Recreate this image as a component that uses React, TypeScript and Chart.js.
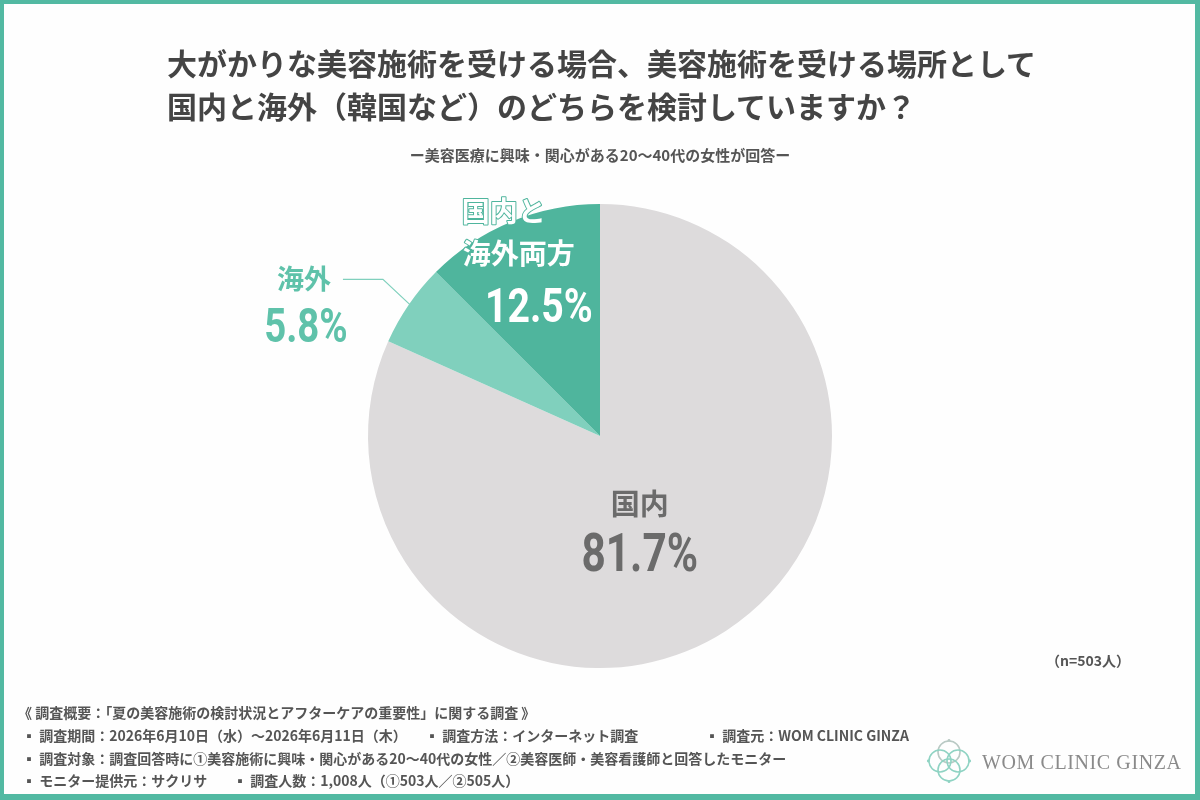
import React, { useEffect, useRef } from 'react';
import { Chart, registerables } from 'chart.js';

Chart.register(...registerables);

// Survey answers (share of respondents, %)
const CATEGORIES = ['国内', '海外', '国内と海外両方'];
const SHARES = [81.7, 5.8, 12.5];
const SLICE_COLORS = ['#dddbdc', '#80d0bd', '#4fb59d'];

const TITLE_LINES = [
  '大がかりな美容施術を受ける場合、美容施術を受ける場所として',
  '国内と海外（韓国など）のどちらを検討していますか？',
];
const SUBTITLE = 'ー美容医療に興味・関心がある20〜40代の女性が回答ー';
const SAMPLE_NOTE = '（n=503人）';

const FOOTER_HEAD = '《 調査概要：「夏の美容施術の検討状況とアフターケアの重要性」に関する調査 》';
const FOOTER_ROWS: { text: string; x: number }[][] = [
  [
    { text: '▪ 調査期間：2026年6月10日（水）〜2026年6月11日（木）', x: 22 },
    { text: '▪ 調査方法：インターネット調査', x: 425 },
    { text: '▪ 調査元：WOM CLINIC GINZA', x: 705 },
  ],
  [{ text: '▪ 調査対象：調査回答時に①美容施術に興味・関心がある20〜40代の女性／②美容医師・美容看護師と回答したモニター', x: 22 }],
  [
    { text: '▪ モニター提供元：サクリサ', x: 22 },
    { text: '▪ 調査人数：1,008人（①503人／②505人）', x: 233 },
  ],
];

const JP = '"Noto Sans CJK JP", "Noto Sans", sans-serif';
const NUM = 'Roboto, "Noto Sans", sans-serif';

type LabelLine = { text: string; dx: number; dy: number; size: number; num?: boolean; align: CanvasTextAlign };
type LabelStyle = {
  r: number;
  color: string;
  outline?: string;
  leader?: { from: number; elbow: [number, number]; end: [number, number]; color: string };
  lines: LabelLine[];
};

const pct = (v: number) => `${v.toFixed(1)}%`;

// Per-slice label layout, offsets relative to a point on the slice's mid angle
const LABEL_STYLES: LabelStyle[] = [
  {
    r: 0.45,
    color: '#6b6b6b',
    lines: [
      { text: CATEGORIES[0], dx: -17, dy: -20, size: 29, align: 'center' },
      { text: pct(SHARES[0]), dx: -17, dy: 29, size: 53, num: true, align: 'center' },
    ],
  },
  {
    r: 1.0,
    color: '#5fc2aa',
    leader: { from: 0.985, elbow: [-26, -25], end: [-66, -25], color: '#80d0bd' },
    lines: [
      { text: CATEGORIES[1], dx: -105, dy: -26, size: 27, align: 'center' },
      { text: pct(SHARES[1]), dx: -103, dy: 21, size: 48, num: true, align: 'center' },
    ],
  },
  {
    r: 0.6,
    color: '#ffffff',
    outline: '#4fb59d',
    lines: [
      { text: '国内と', dx: -85, dy: -96, size: 28, align: 'left' },
      { text: '海外両方', dx: -84, dy: -54, size: 28, align: 'left' },
      { text: pct(SHARES[2]), dx: 46, dy: -3, size: 49, num: true, align: 'right' },
    ],
  },
];

const sliceLabels = {
  id: 'sliceLabels',
  afterDatasetsDraw(chart: any) {
    const ctx: CanvasRenderingContext2D = chart.ctx;
    const meta = chart.getDatasetMeta(0);
    meta.data.forEach((arc: any, i: number) => {
      const style = LABEL_STYLES[i];
      if (!style) return;
      const { x, y, startAngle, endAngle, outerRadius } = arc.getProps(
        ['x', 'y', 'startAngle', 'endAngle', 'outerRadius'],
        true
      );
      const mid = (startAngle + endAngle) / 2;
      const ax = x + Math.cos(mid) * outerRadius * style.r;
      const ay = y + Math.sin(mid) * outerRadius * style.r;
      ctx.save();
      if (style.leader) {
        const L = style.leader;
        const sx = x + Math.cos(mid) * outerRadius * L.from;
        const sy = y + Math.sin(mid) * outerRadius * L.from;
        ctx.strokeStyle = L.color;
        ctx.lineWidth = 1.2;
        ctx.beginPath();
        ctx.moveTo(sx, sy);
        ctx.lineTo(ax + L.elbow[0], ay + L.elbow[1]);
        ctx.lineTo(ax + L.end[0], ay + L.end[1]);
        ctx.stroke();
      }
      style.lines.forEach((ln) => {
        const px = ax + ln.dx;
        const py = ay + ln.dy;
        ctx.save();
        ctx.fillStyle = style.color;
        ctx.textAlign = ln.align;
        if (ln.num) {
          ctx.font = `700 ${ln.size}px ${NUM}`;
          ctx.textBaseline = 'alphabetic';
          ctx.translate(px, py + ln.size * 0.711 / 2);
          ctx.scale(0.8, 1);
          ctx.fillText(ln.text, 0, 0);
        } else {
          ctx.font = `700 ${ln.size}px ${JP}`;
          ctx.textBaseline = 'middle';
          if (style.outline) {
            ctx.strokeStyle = style.outline;
            ctx.lineWidth = 2;
            ctx.lineJoin = 'round';
            ctx.strokeText(ln.text, px, py);
          }
          ctx.fillText(ln.text, px, py);
        }
        ctx.restore();
      });
      ctx.restore();
    });
  },
};

function PieChart() {
  const ref = useRef<HTMLCanvasElement>(null);
  useEffect(() => {
    if (!ref.current) return;
    const chart = new Chart(ref.current, {
      type: 'pie',
      data: {
        labels: CATEGORIES,
        datasets: [
          {
            data: SHARES,
            backgroundColor: SLICE_COLORS,
            borderWidth: 0,
          },
        ],
      },
      options: {
        responsive: false,
        animation: false,
        layout: { padding: { left: 368, right: 368, top: 204, bottom: 132 } },
        plugins: { legend: { display: false }, tooltip: { enabled: false } },
      },
      plugins: [sliceLabels],
    });
    if ((document as any).fonts?.ready) {
      (document as any).fonts.ready.then(() => chart.update());
    }
    return () => chart.destroy();
  }, []);
  return (
    <canvas
      ref={ref}
      width={1200}
      height={800}
      style={{ position: 'absolute', left: 0, top: 0, width: 1200, height: 800 }}
    />
  );
}

function Logo() {
  const petals = [
    [0, -9, '#b9c9c4'],
    [9, 0, '#8fd3c3'],
    [0, 9, '#8fd3c3'],
    [-9, 0, '#8fd3c3'],
  ] as const;
  return (
    <svg width={48} height={48} viewBox="-24 -24 48 48" style={{ position: 'absolute', left: 925, top: 737 }}>
      {petals.map(([cx, cy, c], i) => (
        <circle key={i} cx={cx} cy={cy} r={11} fill="none" stroke={c} strokeWidth={1.6} />
      ))}
      {petals.map(([cx, cy, c], i) => (
        <circle key={`d${i}`} cx={cx * 2.3} cy={cy * 2.3} r={1.4} fill={c} />
      ))}
    </svg>
  );
}

export default function App() {
  const footerText: React.CSSProperties = {
    position: 'absolute',
    fontFamily: JP,
    fontWeight: 700,
    fontSize: 14,
    color: '#555',
    lineHeight: '20px',
    whiteSpace: 'nowrap',
  };
  return (
    <div
      style={{
        position: 'fixed',
        left: 0,
        top: 0,
        width: 1200,
        height: 800,
        background: '#fefefe',
        overflow: 'hidden',
        fontFamily: JP,
      }}
    >
      <PieChart />
      {TITLE_LINES.map((t, i) => (
        <div
          key={t}
          style={{
            position: 'absolute',
            left: 167,
            top: 41 + i * 43,
            fontSize: 30,
            fontWeight: 700,
            color: '#444',
            lineHeight: '43px',
            whiteSpace: 'nowrap',
          }}
        >
          {t}
        </div>
      ))}
      <div
        style={{
          position: 'absolute',
          left: 0,
          width: 1200,
          top: 145,
          textAlign: 'center',
          fontSize: 15,
          fontWeight: 700,
          color: '#555',
          lineHeight: '20px',
        }}
      >
        {SUBTITLE}
      </div>
      <div style={{ ...footerText, left: 1046, top: 650 }}>{SAMPLE_NOTE}</div>
      <div style={{ ...footerText, left: 18, top: 702 }}>{FOOTER_HEAD}</div>
      {FOOTER_ROWS.map((row, r) =>
        row.map((cell) => (
          <div key={cell.text} style={{ ...footerText, left: cell.x, top: 725 + r * 22.5 }}>
            {cell.text}
          </div>
        ))
      )}
      <Logo />
      <div
        style={{
          position: 'absolute',
          left: 982,
          top: 749,
          fontFamily: '"Liberation Serif", "DejaVu Serif", serif',
          fontSize: 20,
          letterSpacing: 0.6,
          color: '#8a8a8a',
          lineHeight: '26px',
          whiteSpace: 'nowrap',
        }}
      >
        WOM CLINIC GINZA
      </div>
      <div
        style={{
          position: 'absolute',
          inset: 0,
          borderStyle: 'solid',
          borderColor: '#52b9a2',
          borderWidth: '4px 5px 6px 4px',
          pointerEvents: 'none',
        }}
      />
    </div>
  );
}
